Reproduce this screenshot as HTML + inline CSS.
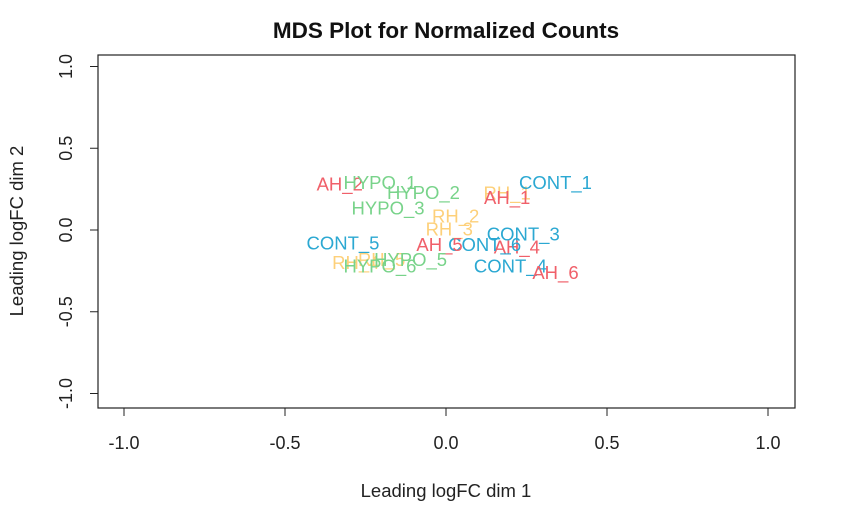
<!DOCTYPE html>
<html><head><meta charset="utf-8"><style>
body{margin:0;background:#fff;}
svg{display:block;font-family:"Liberation Sans",sans-serif;}
</style></head><body>
<svg id="chart" width="858" height="514">
<text x="446" y="38" text-anchor="middle" font-size="22.5" font-weight="bold" fill="#111">MDS Plot for Normalized Counts</text>
<rect x="98" y="55" width="697" height="353" fill="none" stroke="#222" stroke-width="1.2"/>
<text x="446" y="497" text-anchor="middle" font-size="18.5" fill="#222">Leading logFC dim 1</text>
<text transform="translate(23,231) rotate(-90)" text-anchor="middle" font-size="18.5" fill="#222">Leading logFC dim 2</text>
<g id="axes"></g>
<g id="points"></g>
</svg>
<script>
const xTicks=[-1,-0.5,0,0.5,1];
const yTicks=[-1,-0.5,0,0.5,1];
const tickLabels=["-1.0","-0.5","0.0","0.5","1.0"];
const labels=["AH_2","HYPO_1","HYPO_2","HYPO_3","RH_2","RH_3","RH_1","AH_1","CONT_1","CONT_3","AH_4","CONT_6","AH_5","CONT_5","CONT_4","AH_6","RH_4","RH_5","HYPO_5","HYPO_6"];
const dim1=[-0.33,-0.205,-0.07,-0.18,0.03,0.01,0.19,0.19,0.34,0.24,0.22,0.12,-0.02,-0.32,0.2,0.34,-0.28,-0.2,-0.11,-0.205];
const dim2=[0.28,0.29,0.23,0.135,0.085,0.005,0.225,0.2,0.29,-0.025,-0.105,-0.09,-0.09,-0.08,-0.22,-0.26,-0.2,-0.18,-0.18,-0.22];
const groupColors={AH:"#f0606a",HYPO:"#78d38a",CONT:"#2ba8d2",RH:"#fdd07a"};
const sx=v=>446+v*322;
const sy=v=>230-v*163.5;
const NS="http://www.w3.org/2000/svg";
const axes=document.getElementById('axes');
function mk(tag,attrs,parent,txt){const e=document.createElementNS(NS,tag);for(const k in attrs)e.setAttribute(k,attrs[k]);if(txt!==undefined)e.textContent=txt;parent.appendChild(e);return e;}
let l=mk('line',{x1:sx(-1),x2:sx(1),y1:408,y2:408,stroke:'#222'},axes);


l=mk('line',{x1:98,x2:98,y1:sy(1),y2:sy(-1),stroke:'#222'},axes);


xTicks.forEach((v,i)=>{
 const t=mk('line',{x1:sx(v),x2:sx(v),y1:408,y2:416,stroke:'#222'},axes);
 
 
 const tx=mk('text',{x:sx(v),y:449,'text-anchor':'middle','font-size':18,fill:'#222'},axes,tickLabels[i]);
 
 
});
yTicks.forEach((v,i)=>{
 const t=mk('line',{x1:90,x2:98,y1:sy(v),y2:sy(v),stroke:'#222'},axes);
 
 
 const tx=mk('text',{transform:`translate(72,${sy(v)}) rotate(-90)`,'text-anchor':'middle','font-size':18,fill:'#222'},axes,tickLabels[i]);
 
 
});
const pts=document.getElementById('points');
labels.forEach((lab,i)=>{
 const g=lab.split('_')[0];
 const t=mk('text',{x:sx(dim1[i]),y:sy(dim2[i])+6.5,'text-anchor':'middle','font-size':18.5,fill:groupColors[g]},pts,lab);
 
 
});
</script>
</body></html>
